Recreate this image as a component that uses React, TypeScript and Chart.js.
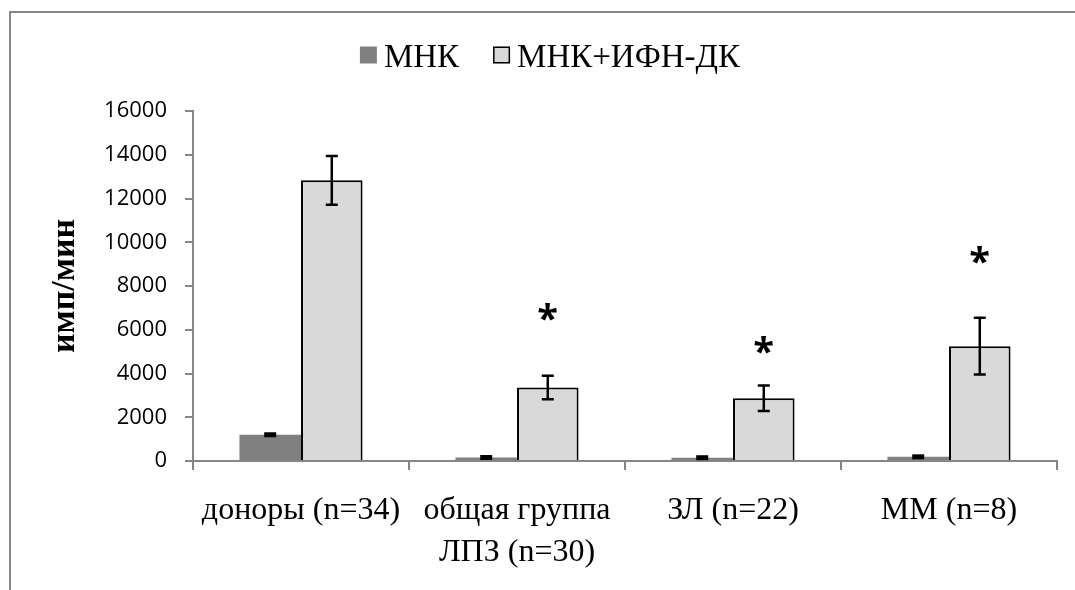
import React, { useEffect, useRef } from "react";
import { Chart, registerables } from "chart.js";

Chart.register(...registerables);

// Groups on the category axis (multi-line labels as arrays)
const categories: string[][] = [
  ["доноры (n=34)"],
  ["общая группа", "ЛПЗ (n=30)"],
  ["ЗЛ (n=22)"],
  ["ММ (n=8)"],
];

// Series: mean counts and their error (±)
const seriesNames = ["МНК", "МНК+ИФН-ДК"];
const mnkValues = [1200, 160, 150, 190];
const mnkErrors = [35, 25, 25, 25];
const mnkIfnValues = [12830, 3360, 2870, 5250];
const mnkIfnErrors = [1110, 540, 585, 1300];

// Significance marks (value level on the y scale; null = no mark)
const significanceLevels: (number | null)[] = [null, 6800, 5300, 9400];

// Y axis ticks
const yMin = 0;
const yMax = 16000;
const yStep = 2000;
const yTitle = "имп/мин";

const AXIS_GRAY = "#868686";
const MNK_FILL = "#808080";
const MNK_IFN_FILL = "#d9d9d9";
const SERIF = "'Liberation Serif', 'Times New Roman', serif";
const SANS = "'Open Sans', 'Liberation Sans', sans-serif";

const seriesErrors = [mnkErrors, mnkIfnErrors];

// Outer frame of the chart object (left and top edges visible)
const framePlugin = {
  id: "frame",
  beforeDraw(chart: Chart) {
    const { ctx, width, height } = chart;
    ctx.save();
    ctx.strokeStyle = AXIS_GRAY;
    ctx.lineWidth = 2;
    ctx.beginPath();
    ctx.moveTo(10, height + 2);
    ctx.lineTo(10, 12);
    ctx.lineTo(width + 2, 12);
    ctx.stroke();
    ctx.restore();
  },
};

// Vertical error bars with caps
const errorBarPlugin = {
  id: "errorBars",
  afterDatasetsDraw(chart: Chart) {
    const { ctx } = chart;
    const y = chart.scales.y;
    ctx.save();
    ctx.strokeStyle = "#000";
    ctx.lineWidth = 2.5;
    chart.data.datasets.forEach((ds, di) => {
      const meta = chart.getDatasetMeta(di);
      const errs = seriesErrors[di];
      meta.data.forEach((el: any, i: number) => {
        const v = ds.data[i] as number;
        const e = errs[i];
        const top = y.getPixelForValue(v + e);
        const bot = y.getPixelForValue(v - e);
        const cx = el.x;
        const half = 6;
        if (bot - top < 4) {
          ctx.fillStyle = "#000";
          ctx.fillRect(cx - half, (top + bot) / 2 - 2.5, half * 2, 5);
          return;
        }
        ctx.beginPath();
        ctx.moveTo(cx, top);
        ctx.lineTo(cx, bot);
        ctx.moveTo(cx - half, top);
        ctx.lineTo(cx + half, top);
        ctx.moveTo(cx - half, bot);
        ctx.lineTo(cx + half, bot);
        ctx.stroke();
      });
    });
    ctx.restore();
  },
};

// Asterisks above the second series
const significancePlugin = {
  id: "significance",
  afterDatasetsDraw(chart: Chart) {
    const { ctx } = chart;
    const y = chart.scales.y;
    const meta = chart.getDatasetMeta(1);
    ctx.save();
    ctx.fillStyle = "#000";
    ctx.font = `bold 38px ${SANS}`;
    ctx.textAlign = "left";
    ctx.textBaseline = "alphabetic";
    const m = ctx.measureText("*");
    const inkW = m.actualBoundingBoxRight + m.actualBoundingBoxLeft;
    const inkH = m.actualBoundingBoxAscent + m.actualBoundingBoxDescent;
    significanceLevels.forEach((level, i) => {
      if (level == null) return;
      const el: any = meta.data[i];
      const cx = el.x;
      const cy = y.getPixelForValue(level);
      const x = cx - inkW / 2 + m.actualBoundingBoxLeft;
      const base = cy - inkH / 2 + m.actualBoundingBoxAscent;
      ctx.fillText("*", x, base);
    });
    ctx.restore();
  },
};

// Legend row above the plot
const legendPlugin = {
  id: "customLegend",
  afterDraw(chart: Chart) {
    const { ctx } = chart;
    const centerX = 550;
    const midY = 55;
    const box = 17;
    const boxGap = 7;
    const itemGap = 34;
    ctx.save();
    ctx.font = `33px ${SERIF}`;
    ctx.textBaseline = "alphabetic";
    ctx.textAlign = "left";
    const widths = seriesNames.map((n) => ctx.measureText(n).width);
    const total =
      widths.reduce((a, b) => a + b, 0) + seriesNames.length * (box + boxGap) + itemGap * (seriesNames.length - 1);
    let x = centerX - total / 2;
    const fills = [MNK_FILL, MNK_IFN_FILL];
    seriesNames.forEach((name, i) => {
      ctx.fillStyle = fills[i];
      ctx.fillRect(x, midY - box / 2, box, box);
      if (i === 1) {
        ctx.strokeStyle = "#000";
        ctx.lineWidth = 1.5;
        ctx.strokeRect(x + 0.75, midY - box / 2 + 0.75, box - 1.5, box - 1.5);
      }
      x += box + boxGap;
      ctx.fillStyle = "#000";
      ctx.fillText(name, x, midY + 11.5);
      x += widths[i] + itemGap;
    });
    ctx.restore();
  },
};

export default function App() {
  const canvasRef = useRef<HTMLCanvasElement | null>(null);

  useEffect(() => {
    if (!canvasRef.current) return;
    const chart = new Chart(canvasRef.current, {
      type: "bar",
      data: {
        labels: categories,
        datasets: [
          {
            label: seriesNames[0],
            data: mnkValues,
            backgroundColor: MNK_FILL,
            borderWidth: 0,
            categoryPercentage: 0.57,
            barPercentage: 1,
          },
          {
            label: seriesNames[1],
            data: mnkIfnValues,
            backgroundColor: MNK_IFN_FILL,
            borderColor: "#000",
            borderWidth: 2,
            categoryPercentage: 0.57,
            barPercentage: 1,
          },
        ],
      },
      options: {
        animation: false,
        responsive: true,
        maintainAspectRatio: false,
        layout: { padding: { top: 111, right: 18, left: 0, bottom: 0 } },
        plugins: {
          legend: { display: false },
          tooltip: { enabled: false },
        },
        scales: {
          x: {
            grid: {
              display: true,
              drawOnChartArea: false,
              drawTicks: true,
              tickLength: 9,
              color: AXIS_GRAY,
              lineWidth: 2,
              offset: true,
            },
            border: { color: AXIS_GRAY, width: 2 },
            ticks: {
              color: "#000",
              padding: 20,
              maxRotation: 0,
              autoSkip: false,
              font: { family: SERIF, size: 32, lineHeight: 1.3 },
            },
            afterFit(scale: any) {
              scale.height = 129;
            },
          },
          y: {
            min: yMin,
            max: yMax,
            grid: {
              display: true,
              drawOnChartArea: false,
              drawTicks: true,
              tickLength: 8,
              color: AXIS_GRAY,
              lineWidth: 2,
            },
            border: { color: AXIS_GRAY, width: 2 },
            ticks: {
              stepSize: yStep,
              color: "#000",
              padding: 18,
              font: { family: SANS, size: 22 },
              callback: (v: any) => String(v),
            },
            title: {
              display: true,
              text: yTitle,
              color: "#000",
              padding: { top: 45, bottom: 0 },
              font: { family: SERIF, size: 34, weight: "bold", lineHeight: 1.2 },
            },
            afterFit(scale: any) {
              scale.width = 193;
            },
          },
        },
      },
      plugins: [framePlugin, errorBarPlugin, significancePlugin, legendPlugin],
    });
    return () => chart.destroy();
  }, []);

  return (
    <div style={{ position: "absolute", left: 0, top: 0, width: 1075, height: 590, background: "#fff" }}>
      <canvas ref={canvasRef} />
    </div>
  );
}
